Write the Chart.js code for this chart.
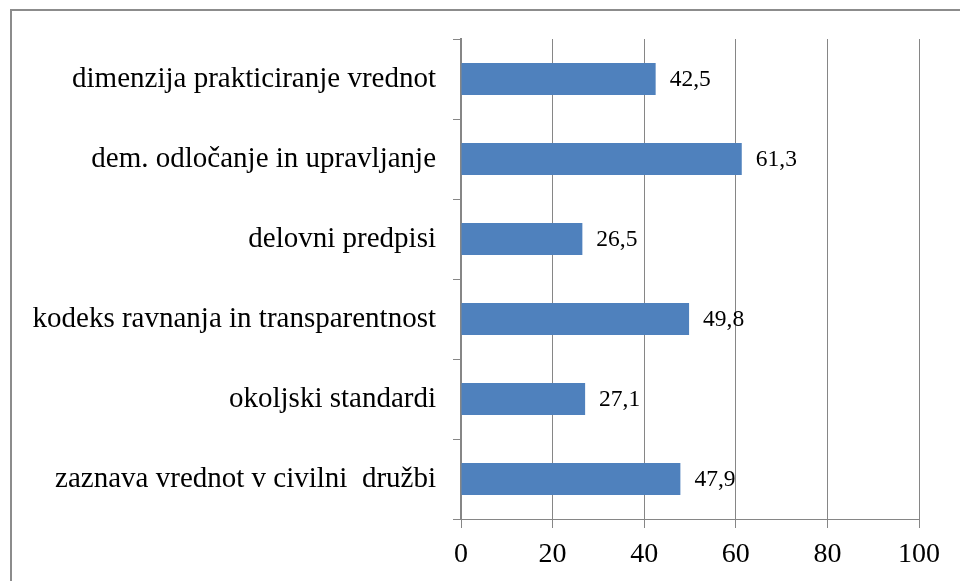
<!DOCTYPE html>
<html>
<head>
<meta charset="utf-8">
<script src="https://cdn.jsdelivr.net/npm/chart.js@4/dist/chart.umd.min.js"></script>
<style>
  html, body { margin: 0; padding: 0; background: #fff; overflow: hidden; }
  #wrap { width: 960px; height: 581px; }
</style>
</head>
<body>
<div id="wrap"><canvas id="chart"></canvas></div>
<script>
const categories = [
   'dimenzija prakticiranje vrednot',
   'dem. odločanje in upravljanje',
   'delovni predpisi',
   'kodeks ravnanja in transparentnost',
   'okoljski standardi',
   'zaznava vrednot v civilni  družbi'
];
const values = [42.5, 61.3, 26.5, 49.8, 27.1, 47.9];
const xTicks = [0, 20, 40, 60, 80, 100];

const serif = '"Liberation Serif", "Times New Roman", serif';
const gridGray = '#868686';

// outer frame, clipped by the window at right and bottom
const framePlugin = {
   id: 'frame',
   beforeDraw(chart) {
      const ctx = chart.ctx;
      ctx.save();
      ctx.fillStyle = '#fff';
      ctx.fillRect(0, 0, chart.width, chart.height);
      ctx.strokeStyle = '#8c8c8c';
      ctx.lineWidth = 2;
      ctx.strokeRect(11, 10, 2000, 2000);
      ctx.restore();
   }
};

// value labels right of each bar, decimal comma
const valueLabels = {
   id: 'valueLabels',
   afterDatasetsDraw(chart) {
      const ctx = chart.ctx;
      const meta = chart.getDatasetMeta(0);
      ctx.save();
      ctx.font = '23.5px ' + serif;
      ctx.fillStyle = '#000';
      ctx.textAlign = 'left';
      ctx.textBaseline = 'middle';
      meta.data.forEach((bar, i) => {
         ctx.fillText(values[i].toFixed(1).replace('.', ','), bar.x + 14, bar.y + 1);
      });
      ctx.restore();
   }
};

new Chart(document.getElementById('chart'), {
   type: 'bar',
   data: {
      labels: categories,
      datasets: [{
         data: values,
         backgroundColor: '#4F81BD',
         barPercentage: 0.4,
         categoryPercentage: 1,
      }],
   },
   options: {
      indexAxis: 'y',
      responsive: true,
      maintainAspectRatio: false,
      animation: false,
      layout: { padding: { top: 39, right: 41, bottom: 0, left: 0 } },
      plugins: {
         legend: { display: false },
         tooltip: { enabled: false },
      },
      scales: {
         x: {
            min: 0,
            max: 100,
            afterBuildTicks(scale) {
               scale.ticks = xTicks.map(v => ({ value: v }));
            },
            afterFit(scale) { scale.height = 62; },
            grid: { color: gridGray, lineWidth: 1, tickLength: 9 },
            border: { color: gridGray, width: 1 },
            ticks: {
               color: '#000',
               padding: 10,
               font: { family: serif, size: 28 },
            },
         },
         y: {
            afterFit(scale) { scale.width = 461; },
            grid: { drawOnChartArea: false, color: gridGray, tickLength: 8, offset: true },
            border: { color: gridGray, width: 2 },
            ticks: {
               color: '#000',
               padding: 17,
               font: { family: serif, size: 29 },
            },
         },
      },
   },
   plugins: [framePlugin, valueLabels],
});
</script>
</body>
</html>
